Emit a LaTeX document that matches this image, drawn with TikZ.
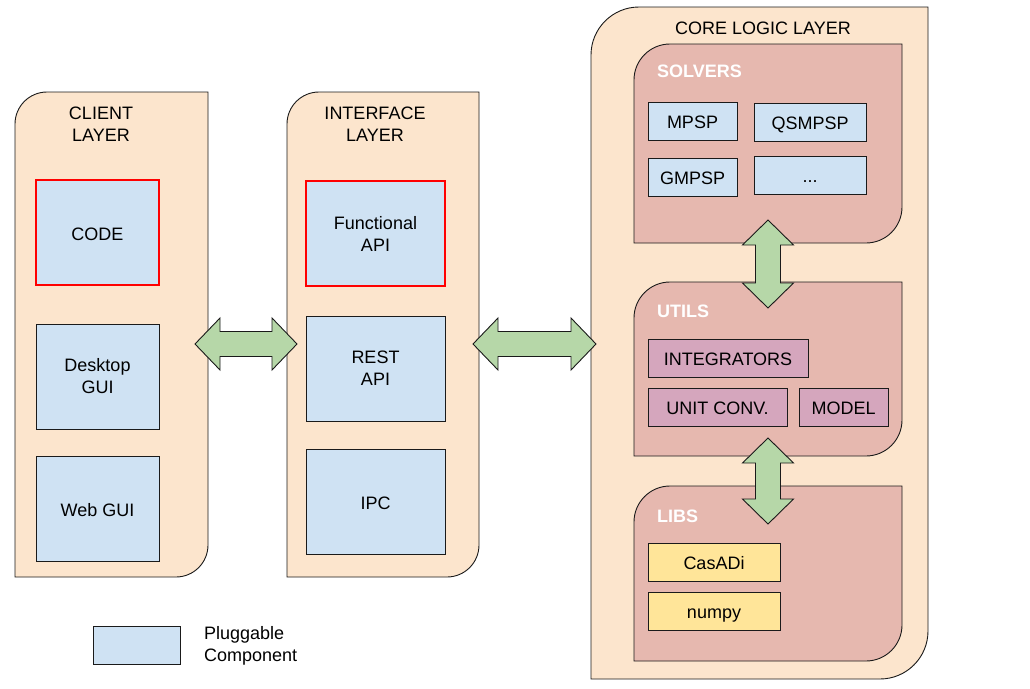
\documentclass[tikz,border=0pt]{standalone}
\usepackage{fontspec}
\setmainfont{Liberation Sans}
\usetikzlibrary{calc}
\definecolor{layerfill}{HTML}{FCE5CD}
\definecolor{groupfill}{HTML}{E6B8AF}
\definecolor{compfill}{HTML}{CFE2F3}
\definecolor{utilfill}{HTML}{D5A6BD}
\definecolor{libfill}{HTML}{FFE599}
\definecolor{arrowfill}{HTML}{B6D7A8}
\definecolor{edge}{HTML}{1A1A1A}
\newcommand\cornerbox[6]{%
  \draw[#1] (#2,{#3+#6}) .. controls (#2,{#3+0.448*#6}) and ({#2+0.448*#6},#3) .. ({#2+#6},#3)
    -- (#4,#3) -- (#4,{#5-#6}) .. controls (#4,{#5-0.448*#6}) and ({#4-0.448*#6},#5) .. ({#4-#6},#5)
    -- (#2,#5) -- cycle;}
\newcommand\harrow[2]{% from (#1) to (#2), horizontal
  \draw[blockarrow] (#1) -- ($(#1)+(25,-26)$) -- ($(#1)+(25,-12.5)$) -- ($(#2)+(-25,-12.5)$)
    -- ($(#2)+(-25,-26)$) -- (#2) -- ($(#2)+(-25,26)$) -- ($(#2)+(-25,12.5)$)
    -- ($(#1)+(25,12.5)$) -- ($(#1)+(25,26)$) -- cycle;}
\newcommand\varrow[2]{% from (#1) top to (#2) bottom, vertical
  \draw[blockarrow] (#1) -- ($(#1)+(25.5,25)$) -- ($(#1)+(12.5,25)$) -- ($(#2)+(12.5,-25)$)
    -- ($(#2)+(25.5,-25)$) -- (#2) -- ($(#2)+(-25.5,-25)$) -- ($(#2)+(-12.5,-25)$)
    -- ($(#1)+(-12.5,25)$) -- ($(#1)+(-25.5,25)$) -- cycle;}
\begin{document}
\begin{tikzpicture}[x=1pt,y=-1pt,
  txt/.style={font=\fontsize{18}{22}\selectfont, align=center, inner sep=0pt},
  oneline/.style={text height=16pt, text depth=1pt},
  box/.style={txt, draw=edge, line width=0.9pt, minimum width=#1},
  comp/.style={box=#1, fill=compfill},
  util/.style={box=#1, fill=utilfill, minimum height=38pt, oneline},
  lib/.style={box=#1, fill=libfill, minimum height=38pt, oneline},
  pluggable/.style={draw=red, line width=2pt},
  grouplabel/.style={txt, text=white, font=\fontsize{18}{22}\selectfont\bfseries, anchor=west},
  blockarrow/.style={draw=edge, fill=arrowfill, line width=0.9pt, line join=miter},
  layerline/.style={draw=edge, fill=layerfill, line width=0.9pt},
  groupline/.style={draw=edge, fill=groupfill, line width=0.9pt}]
\useasboundingbox[fill=white] (0,0) rectangle (1030,688);

% layers
\cornerbox{layerline}{15}{92}{208}{577}{32}
\cornerbox{layerline}{287}{92}{479}{577}{32}
\cornerbox{layerline}{591}{7}{928}{679}{48}
\node[txt] (clientT) at (101,124) {CLIENT\\LAYER};
\node[txt] (ifaceT) at (375,124) {INTERFACE\\LAYER};
\node[txt, oneline] (coreT) at (763,26.5) {CORE LOGIC LAYER};

% client layer
\node[comp=123pt, minimum height=105pt, pluggable, oneline] (code) at (97.5,232.5) {CODE};
\node[comp=123pt, minimum height=105pt] (desk) at (97.5,376.5) {Desktop\\GUI};
\node[comp=123pt, minimum height=105pt, oneline] (web) at (97.5,508.5) {Web GUI};

% interface layer
\node[comp=139pt, minimum height=105pt, pluggable] (fapi) at (375.5,233.5) {Functional\\API};
\node[comp=139pt, minimum height=105pt] (rest) at (375.5,368.5) {REST\\API};
\node[comp=139pt, minimum height=105pt, oneline] (ipc) at (375.5,501.5) {IPC};

% groups in core
\cornerbox{groupline}{634}{44}{902}{243}{36}
\cornerbox{groupline}{634}{282}{902}{456}{36}
\cornerbox{groupline}{634}{486}{902}{661}{36}
\node[grouplabel, oneline] (solT) at (657,69.5) {SOLVERS};
\node[grouplabel, oneline] (utilT) at (657,309.5) {UTILS};
\node[grouplabel, oneline] (libT) at (657,514.5) {LIBS};

\node[comp=89pt, minimum height=38pt, oneline] (mpsp) at (692.5,121) {MPSP};
\node[comp=112pt, minimum height=38pt, oneline] (qsmpsp) at (810,122) {QSMPSP};
\node[comp=89pt, minimum height=38pt, oneline] (gmpsp) at (692.5,177) {GMPSP};
\node[comp=112pt, minimum height=38pt, oneline] (more) at (810,175) {...};

\node[util=160pt] (integ) at (728,358) {INTEGRATORS};
\node[util=139pt] (unit) at (717.5,407) {UNIT CONV.};
\node[util=89pt] (model) at (843.5,407) {MODEL};

\node[lib=132pt] (casadi) at (714,562) {CasADi};
\node[lib=132pt] (numpy) at (714,611) {numpy};

% legend
\node[comp=87pt, minimum height=38pt] (legbox) at (136.5,645) {};
\node[txt, align=left, anchor=west] (legT) at (204,646) {Pluggable\\Component};

% block arrows
\coordinate (a1l) at (195,344);
\coordinate (a1r) at (297,344);
\coordinate (a2l) at (473,344);
\coordinate (a2r) at (596,344);
\coordinate (v1t) at (768,220);
\coordinate (v1b) at (768,308);
\coordinate (v2t) at (768,438);
\coordinate (v2b) at (768,524);
\harrow{a1l}{a1r}
\harrow{a2l}{a2r}
\varrow{v1t}{v1b}
\varrow{v2t}{v2b}
\end{tikzpicture}
\end{document}
